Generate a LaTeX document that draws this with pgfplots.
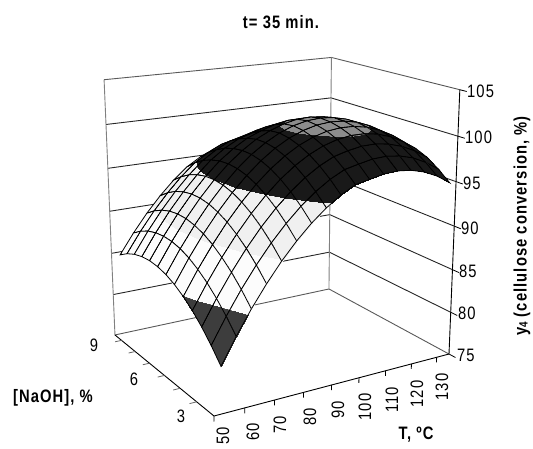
\documentclass[border=0pt]{standalone}
\usepackage{fontspec}
\setmainfont[FakeStretch=0.82,LetterSpace=6]{Liberation Sans}
\usepackage{pgfplots}
\usepackage{pgfplotstable}
\pgfplotsset{compat=1.18}
\pgfplotstableread{
T N Y
130 9 92.10
125 9 93.44
120 9 94.54
115 9 95.39
110 9 96.00
105 9 96.36
100 9 96.48
95 9 96.35
90 9 95.98
85 9 95.66
80 9 94.95
75 9 93.99
70 9 92.64
65 9 91.04
60 9 89.20
55 9 87.11
50 9 84.78
130 8.5 93.43
125 8.5 94.73
120 8.5 95.80
115 8.5 96.61
110 8.5 97.18
105 8.5 97.50
100 8.5 97.58
95 8.5 97.41
90 8.5 97.00
85 8.5 96.65
80 8.5 95.90
75 8.5 94.90
70 8.5 93.51
65 8.5 91.87
60 8.5 89.99
55 8.5 87.87
50 8.5 85.50
130 8 94.57
125 8 95.83
120 8 96.85
115 8 97.62
110 8 98.16
105 8 98.44
100 8 98.48
95 8 98.28
90 8 97.83
85 8 97.43
80 8 96.64
75 8 95.61
70 8 94.18
65 8 92.50
60 8 90.58
55 8 88.42
50 8 86.01
130 7.5 95.60
125 7.5 96.82
120 7.5 97.81
115 7.5 98.54
110 7.5 99.04
105 7.5 99.28
100 7.5 99.28
95 7.5 99.04
90 7.5 98.55
85 7.5 98.07
80 7.5 97.22
75 7.5 96.11
70 7.5 94.65
65 7.5 92.93
60 7.5 90.98
55 7.5 88.77
50 7.5 86.32
130 7 96.53
125 7 97.72
120 7 98.66
115 7 99.36
110 7 99.81
105 7 100.02
100 7 99.99
95 7 99.70
90 7 99.18
85 7 98.55
80 7 97.61
75 7 96.42
70 7 94.92
65 7 93.16
60 7 91.17
55 7 88.92
50 7 86.44
130 6.5 97.27
125 6.5 98.41
120 6.5 99.32
115 6.5 99.98
110 6.5 100.39
105 6.5 100.56
100 6.5 100.49
95 6.5 100.16
90 6.5 99.60
85 6.5 98.84
80 6.5 97.80
75 6.5 96.53
70 6.5 94.99
65 6.5 93.19
60 6.5 91.16
55 6.5 88.88
50 6.5 86.35
130 6 97.70
125 6 98.81
120 6 99.68
115 6 100.29
110 6 100.67
105 6 100.80
100 6 100.69
95 6 100.33
90 6 99.72
85 6 98.87
80 6 97.78
75 6 96.44
70 6 94.85
65 6 93.02
60 6 90.95
55 6 88.63
50 6 86.07
130 5.5 97.84
125 5.5 98.90
120 5.5 99.73
115 5.5 100.31
110 5.5 100.65
105 5.5 100.74
100 5.5 100.59
95 5.5 100.19
90 5.5 99.55
85 5.5 98.66
80 5.5 97.52
75 5.5 96.14
70 5.5 94.52
65 5.5 92.65
60 5.5 90.54
55 5.5 88.18
50 5.5 85.58
130 5 97.77
125 5 98.80
120 5 99.59
115 5 100.13
110 5 100.43
105 5 100.48
100 5 100.29
95 5 99.85
90 5 99.17
85 5 98.24
80 5 97.07
75 5 95.65
70 5 93.99
65 5 92.08
60 5 89.93
55 5 87.53
50 5 84.89
130 4.5 97.50
125 4.5 98.49
120 4.5 99.25
115 4.5 99.75
110 4.5 100.01
105 4.5 100.02
100 4.5 99.79
95 4.5 99.31
90 4.5 98.59
85 4.5 97.63
80 4.5 96.42
75 4.5 94.96
70 4.5 93.26
65 4.5 91.31
60 4.5 89.12
55 4.5 86.68
50 4.5 84.01
130 4 96.94
125 4 97.89
120 4 98.60
115 4 99.06
110 4 99.29
105 4 99.26
100 4 98.99
95 4 98.58
90 4 97.82
85 4 96.81
80 4 95.56
75 4 94.07
70 4 92.33
65 4 90.34
60 4 88.11
55 4 85.64
50 4 82.92
130 3.5 96.07
125 3.5 97.03
120 3.5 97.76
115 3.5 98.18
110 3.5 98.37
105 3.5 98.30
100 3.5 97.99
95 3.5 97.64
90 3.5 96.84
85 3.5 95.80
80 3.5 94.51
75 3.5 92.97
70 3.5 91.20
65 3.5 89.17
60 3.5 86.91
55 3.5 84.39
50 3.5 81.63
130 3 95.00
125 3 95.98
120 3 96.66
115 3 97.08
110 3 97.24
105 3 97.14
100 3 96.82
95 3 96.50
90 3 95.67
85 3 94.58
80 3 93.26
75 3 91.68
70 3 89.87
65 3 87.80
60 3 85.50
55 3 82.94
50 3 80.15
}\surfacedata
\newcommand\Uu{((\thisrow{T}-47.5)/85)}
\newcommand\Vv{((\thisrow{N}-2.75)/6.5)}
\newcommand\Vs{((\thisrow{N}-3)/6.1)}
\newcommand\Ww{((\thisrow{Y}-75)/30)}
\newcommand\Dd{(1+0.1265*\Uu+0.1691*\Vv-0.07*\Ww)}
\newcommand\Ds{(1+0.1265*\Uu+0.1691*\Vs-0.07*\Ww)}
\pgfkeys{/pgfplots/table/proj/.style={
  /pgfplots/table/x expr={(214+291.8*\Uu-79.6*\Vv-20*\Ww)/\Dd},
  /pgfplots/table/y expr={(416-17.2*\Uu-24.4*\Vv-304*\Ww)/\Dd}},
  /pgfplots/table/projs/.style={
  /pgfplots/table/x expr={(214+291.8*\Uu-79.6*\Vs-20*\Ww)/\Ds},
  /pgfplots/table/y expr={(416-17.2*\Uu-24.4*\Vs-304*\Ww)/\Ds}}}
\begin{document}
\begin{tikzpicture}[x=1pt,y=1pt]
\path[use as bounding box] (0,0) rectangle (533,448);
\begin{axis}[
  at={(0,0)},anchor=south west,scale only axis,width=533pt,height=448pt,
  xmin=0,xmax=533,ymin=0,ymax=448,y dir=reverse,hide axis,clip=false,
  point meta min=75,point meta max=105,
  colormap={bands}{gray(0pt)=(0.24) gray(999pt)=(0.24) gray(1000pt)=(0.99) gray(1499pt)=(0.99)
    gray(1500pt)=(0.94) gray(1999pt)=(0.94) gray(2000pt)=(0.1) gray(2499pt)=(0.1)
    gray(2500pt)=(0.55) gray(3000pt)=(0.55)},
]
% wall grid lines
\addplot[no marks,draw=black!85,line width=0.9pt] table[proj] {
T N Y
47.5 9.25 80
132.5 9.25 80
132.5 2.75 80

47.5 9.25 85
132.5 9.25 85
132.5 2.75 85

47.5 9.25 90
132.5 9.25 90
132.5 2.75 90

47.5 9.25 95
132.5 9.25 95
132.5 2.75 95

47.5 9.25 100
132.5 9.25 100
132.5 2.75 100
};
\addplot[no marks,draw=black!65,line width=0.9pt] table[proj] {
T N Y
47.5 9.25 105
132.5 9.25 105
132.5 2.75 105

47.5 9.25 75
132.5 9.25 75
132.5 2.75 75
};
% wall verticals
\addplot[no marks,draw=black!50,line width=0.9pt] table[proj] {
T N Y
47.5 9.25 75
47.5 9.25 105

132.5 9.25 75
132.5 9.25 105
};
% surface
\addplot[surf,shader=faceted interp,faceted color=black,line width=0.8pt,
  mesh/rows=13,mesh/cols=17,point meta=explicit] table[projs,meta=Y] {\surfacedata};
% front floor edges and value axis
\addplot[no marks,draw=black,line width=0.9pt] table[proj] {
T N Y
47.5 9.25 75
47.5 2.75 75
132.5 2.75 75
132.5 2.75 105
};
% value ticks
\addplot[no marks,draw=black,line width=0.8pt] table[proj] {
T N Y
132.5 2.75 75
132.5 2.45 75

132.5 2.75 80
132.5 2.45 80

132.5 2.75 85
132.5 2.45 85

132.5 2.75 90
132.5 2.45 90

132.5 2.75 95
132.5 2.45 95

132.5 2.75 100
132.5 2.45 100

132.5 2.75 105
132.5 2.45 105
};
% T ticks
\addplot[no marks,draw=black,line width=0.8pt] table[proj] {
T N Y
47.5 2.75 75
47.5 2.75 74.4

57.5 2.75 75
57.5 2.75 74.4

67.5 2.75 75
67.5 2.75 74.4

77.5 2.75 75
77.5 2.75 74.4

87.5 2.75 75
87.5 2.75 74.4

97.5 2.75 75
97.5 2.75 74.4

107.5 2.75 75
107.5 2.75 74.4

117.5 2.75 75
117.5 2.75 74.4

127.5 2.75 75
127.5 2.75 74.4
};
% N ticks
\addplot[no marks,draw=black!60,line width=0.8pt] table[proj] {
T N Y
47.5 3.75 75
45.2 3.75 75

47.5 4.75 75
45.2 4.75 75

47.5 5.75 75
45.2 5.75 75

47.5 6.75 75
45.2 6.75 75

47.5 7.75 75
45.2 7.75 75

47.5 8.75 75
45.2 8.75 75
};
\begin{scope}[every node/.style={font=\fontsize{18}{20}\selectfont,inner sep=0pt}]
\node[anchor=west] at (axis cs:467,91) {105};
\node[anchor=west] at (axis cs:465,137) {100};
\node[anchor=west] at (axis cs:463,183) {95};
\node[anchor=west] at (axis cs:461,228) {90};
\node[anchor=west] at (axis cs:459,271) {85};
\node[anchor=west] at (axis cs:458,313) {80};
\node[anchor=west] at (axis cs:457,355) {75};
\node[rotate=90] at (axis cs:223,436) {50};
\node[rotate=90] at (axis cs:253,432) {60};
\node[rotate=90] at (axis cs:280,425) {70};
\node[rotate=90] at (axis cs:310,417) {80};
\node[rotate=90] at (axis cs:338,410) {90};
\node[rotate=90] at (axis cs:365,407) {100};
\node[rotate=90] at (axis cs:392,400) {110};
\node[rotate=90] at (axis cs:417,394) {120};
\node[rotate=90] at (axis cs:442,387) {130};
\node at (axis cs:94,345) {9};
\node at (axis cs:134,379) {6};
\node at (axis cs:181,416) {3};
\end{scope}
\begin{scope}[every node/.style={font=\fontsize{18}{20}\bfseries\selectfont,inner sep=0pt}]
\node at (axis cs:281,22) {t= 35 min.};
\node at (axis cs:416,435) {T, ºC};
\node at (axis cs:53,398) {[NaOH], \%};
\node[rotate=90] at (axis cs:522,226) {y\raisebox{-1pt}{\fontsize{12}{12}\bfseries\selectfont 4} (cellulose conversion, \%)};
\end{scope}
\end{axis}
\end{tikzpicture}
\end{document}
